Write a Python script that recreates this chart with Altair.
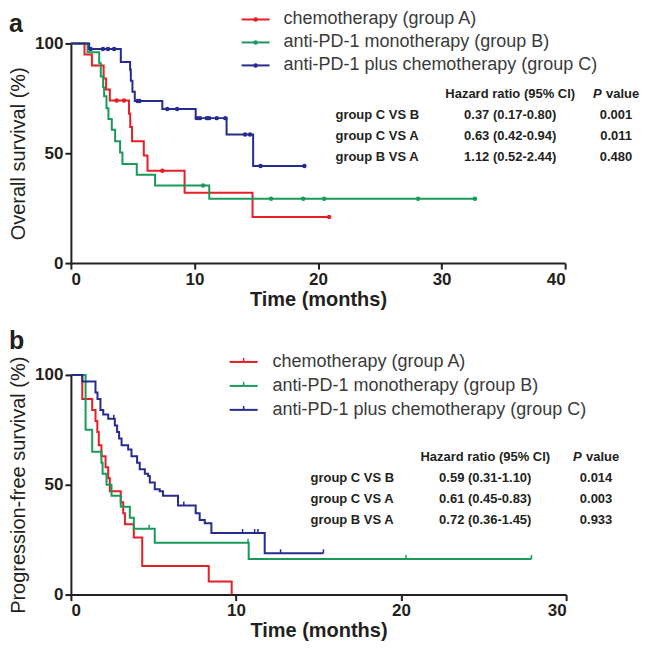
import altair as alt
import pandas as pd

FONT = "Liberation Sans"
INK = "#231F20"

groups = ["chemotherapy (group A)", "anti-PD-1 monotherapy (group B)",
          "anti-PD-1 plus chemotherapy (group C)"]
colors = ["#E61E25", "#1A9A5A", "#262B8E"]

# ---------------- Panel a: overall survival ----------------
os_a_t = [0, 1.1, 1.7, 2.65, 2.85, 3.15, 4.7, 4.8, 4.95, 5.9, 6.2, 9.2, 14.7, 20.9]
os_a_s = [100, 95, 90, 84, 79, 74, 68, 62, 55.5, 49, 42, 32, 21, 21]
os_b_t = [0, 1.35, 2.29, 2.42, 2.61, 2.69, 2.88, 3.04, 3.31, 3.58, 3.98, 4.17, 5.33, 6.81, 11.2, 32.7]
os_b_s = [100, 96, 91, 85, 80, 76, 70.5, 65.6, 60.7, 55.5, 50.3, 45.1, 40.2, 35.3, 29.3, 29.3]
os_c_t = [0, 1.48, 4.04, 4.79, 4.85, 4.98, 5.17, 7.4, 10.1, 12.6, 14.75, 18.9]
os_c_s = [100, 97.5, 91.5, 88, 83, 78, 73.8, 70.2, 66, 58.5, 44.2, 44.2]

os_cens_a_t = [3.7, 4.3, 7.4, 20.9]
os_cens_a_s = [74, 74, 42, 21]
os_cens_b_t = [10.7, 16.2, 18.8, 20.5, 28.1, 32.7]
os_cens_b_s = [35.3, 29.3, 29.3, 29.3, 29.3, 29.3]
os_cens_c_t = [1.6, 2.6, 3.0, 3.5, 5.4, 5.55, 7.8, 8.6, 10.2, 10.45, 11.0, 11.2, 11.8, 12.5, 14.1, 14.5, 15.35, 18.9]
os_cens_c_s = [97.5, 97.5, 97.5, 97.5, 73.8, 73.8, 70.2, 70.2, 66, 66, 66, 66, 66, 66, 58.5, 58.5, 44.2, 44.2]

# ---------------- Panel b: progression-free survival ----------------
pfs_a_t = [0, 0.69, 1.29, 1.49, 1.6, 1.69, 1.85, 2.1, 2.26, 2.36, 3.02, 3.17, 3.27, 3.81, 4.32, 8.35, 9.74]
pfs_a_s = [100, 89, 84, 79, 74, 68, 63, 58, 53, 47, 42, 37, 32, 26, 13, 6, 0]
pfs_b_t = [0, 0.89, 1.29, 1.85, 1.92, 2.16, 2.46, 3.02, 3.57, 3.81, 5.08, 10.77, 27.9]
pfs_b_s = [100, 75, 65, 60, 55, 50, 45, 40, 35, 30, 23.6, 16.2, 16.2]
pfs_c_t = [0, 0.69, 1.49, 1.61, 1.79, 1.96, 2.26, 2.66, 2.8, 2.92, 3.07, 3.47, 3.67, 4.01, 4.17,
           4.48, 4.68, 4.78, 5.08, 5.38, 5.58, 6.49, 7.56, 7.8, 8.11, 8.51, 11.74, 15.3]
pfs_c_s = [100, 97, 92, 89, 84, 82, 80, 77, 74, 71, 68, 66, 63, 60, 57,
           55, 54, 51, 48, 47, 45, 40.6, 37, 34, 32.5, 28, 18.8, 18.8]

pfs_cens_a_t = []
pfs_cens_a_s = []
pfs_cens_b_t = [4.74, 10.73, 20.3, 27.9]
pfs_cens_b_s = [30, 23.6, 16.2, 16.2]
pfs_cens_c_t = [2.6, 6.84, 10.4, 11.13, 11.33, 12.7, 15.3]
pfs_cens_c_s = [80, 40.6, 28, 28, 28, 18.8, 18.8]

# ---------------- tables ----------------
comparisons = ["group C VS B", "group C VS A", "group B VS A"]
os_hr = ["0.37 (0.17-0.80)", "0.63 (0.42-0.94)", "1.12 (0.52-2.44)"]
os_p = ["0.001", "0.011", "0.480"]
pfs_hr = ["0.59 (0.31-1.10)", "0.61 (0.45-0.83)", "0.72 (0.36-1.45)"]
pfs_p = ["0.014", "0.003", "0.933"]


def frame(ts, ss):
    rows = []
    for g, t, s in zip(groups, ts, ss):
        for ti, si in zip(t, s):
            rows.append({"t": ti, "s": si, "g": g})
    return pd.DataFrame(rows, columns=["t", "s", "g"])


one = pd.DataFrame({"k": [0]})


def txt(text, x, y, size=13, weight="bold", align="left", color=INK, style="normal", baseline="middle"):
    return alt.Chart(one).mark_text(text=text, font=FONT, fontSize=size, fontWeight=weight,
                                    fontStyle=style, align=align, baseline=baseline,
                                    color=color).encode(x=alt.value(x), y=alt.value(y))


def panel(curves, cens, xmax, xticks, ytitle, w, h, tick_style, leg, tab, hr, pv, label, label_y):
    xs = alt.Scale(domain=[0, xmax], nice=False)
    ys = alt.Scale(domain=[0, 100], nice=False)
    color = alt.Color("g:N", scale=alt.Scale(domain=groups, range=colors), legend=None)
    x = alt.X("t:Q", scale=xs, axis=alt.Axis(values=xticks, title="Time (months)", titleFontSize=20,
                                             titleFontWeight="bold", titlePadding=2, labelPadding=2))
    y = alt.Y("s:Q", scale=ys, axis=alt.Axis(values=[0, 50, 100], title=ytitle, titleFontSize=20,
                                             titleFontWeight="normal", labelPadding=2,
                                             titleX=-52, titleY=h / 2, titleAngle=270,
                                             titleBaseline="middle", titleAlign="center"))
    lines = alt.Chart(curves).mark_line(interpolate="step-after", strokeWidth=2).encode(
        x=x, y=y, color=color, detail="g:N")
    if tick_style == "dot":
        cm = alt.Chart(cens).mark_point(shape="circle", filled=True, size=20, opacity=1).encode(
            x="t:Q", y="s:Q", color=color)
    else:
        cm = alt.Chart(cens).mark_point(shape="M0,-1L0,0", filled=False, size=64, strokeWidth=1.5,
                                        opacity=1).encode(x="t:Q", y="s:Q", color=color)
    layers = [lines, cm]
    # legend
    lx0, lx1, ltx, ly0, ldy = leg
    for i, g in enumerate(groups):
        yy = ly0 + i * ldy
        layers.append(alt.Chart(one).mark_rule(color=colors[i], strokeWidth=2).encode(
            x=alt.value(lx0), x2=alt.value(lx1), y=alt.value(yy)))
        if tick_style == "dot":
            layers.append(alt.Chart(one).mark_point(shape="circle", filled=True, size=20, opacity=1,
                                                    color=colors[i]).encode(
                x=alt.value((lx0 + lx1) / 2), y=alt.value(yy)))
        else:
            layers.append(alt.Chart(one).mark_point(shape="M0,-1L0,0", filled=False, size=64,
                                                    strokeWidth=1.5, opacity=1, color=colors[i]).encode(
                x=alt.value((lx0 + lx1) / 2), y=alt.value(yy)))
        layers.append(txt(g, ltx, yy, size=18, weight="normal", color="#3A3A3A"))
    # table
    labx, hrx, px, hy, rdy = tab
    layers.append(txt("Hazard ratio (95% CI)", hrx, hy, align="center"))
    layers.append(txt("P", px - 23, hy, style="italic"))
    layers.append(txt("value", px - 10, hy))
    for i in range(3):
        yy = hy + (i + 1) * rdy
        layers.append(txt(comparisons[i], labx, yy))
        layers.append(txt(hr[i], hrx, yy, align="center"))
        layers.append(txt(pv[i], px, yy, align="center"))
    layers.append(txt(label, -62, label_y, size=25, baseline="top"))
    return alt.layer(*layers).properties(width=w, height=h)


top = panel(frame([os_a_t, os_b_t, os_c_t], [os_a_s, os_b_s, os_c_s]),
            frame([os_cens_a_t, os_cens_b_t, os_cens_c_t], [os_cens_a_s, os_cens_b_s, os_cens_c_s]),
            40, [0, 10, 20, 30, 40], "Overall survival (%)", 495, 220, "dot",
            (171, 199, 213, -24, 23), (265, 440, 546, 51, 21), os_hr, os_p, "a", -31)
bottom = panel(frame([pfs_a_t, pfs_b_t, pfs_c_t], [pfs_a_s, pfs_b_s, pfs_c_s]),
               frame([pfs_cens_a_t, pfs_cens_b_t, pfs_cens_c_t], [pfs_cens_a_s, pfs_cens_b_s, pfs_cens_c_s]),
               30, [0, 10, 20, 30], "Progression-free survival (%)", 496, 220, "tick",
               (159, 187, 202, -13, 24), (240, 415, 526, 82, 21), pfs_hr, pfs_p, "b", -46)

chart = alt.vconcat(top, bottom, spacing=112, bounds="flush").properties(
    padding={"left": 0, "top": 2, "right": 0, "bottom": 0}
).configure_axis(
    domainColor=INK, domainWidth=2, tickColor=INK, tickWidth=2, tickSize=6,
    labelFont=FONT, labelFontSize=17, labelFontWeight="bold", labelColor=INK,
    titleFont=FONT, titleColor=INK, grid=False
).configure_view(stroke=None)

chart.save("out.html", embed_options={"renderer": "svg", "actions": False})
